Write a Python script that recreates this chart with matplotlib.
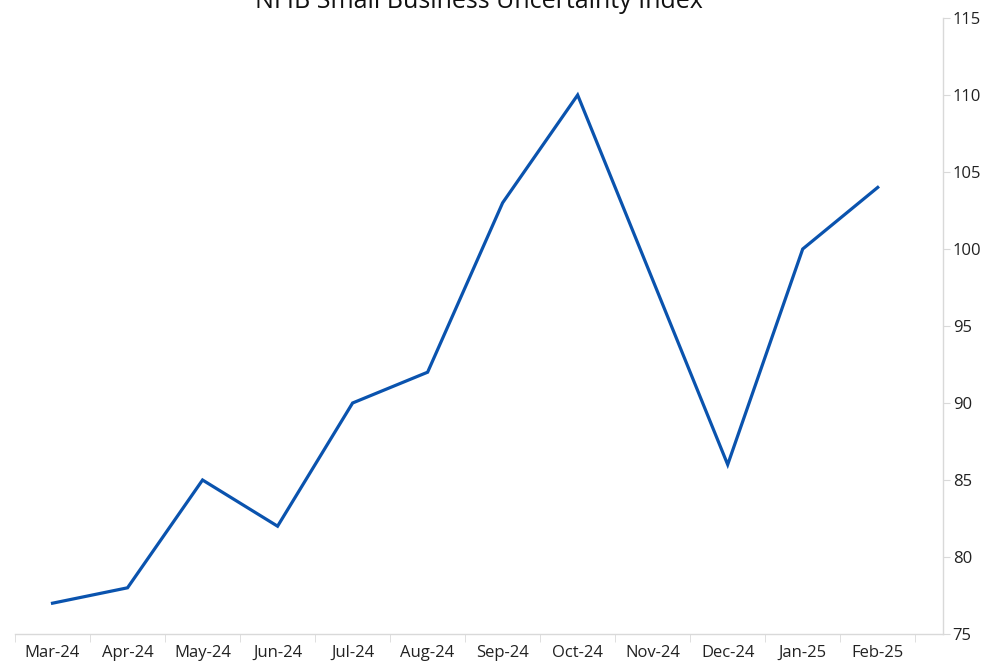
import numpy as np
import matplotlib.pyplot as plt
from matplotlib.ticker import FixedLocator

months = ["Mar-24", "Apr-24", "May-24", "Jun-24", "Jul-24", "Aug-24",
          "Sep-24", "Oct-24", "Nov-24", "Dec-24", "Jan-25", "Feb-25"]
uncertainty = [77, 78, 85, 82, 90, 92, 103, 110, 98, 86, 100, 104]

plt.rcParams['font.family'] = ['Open Sans', 'DejaVu Sans']

fig = plt.figure(figsize=(9.96, 6.65), dpi=100)
ax = fig.add_axes([15 / 996, 31 / 665, 928 / 996, 616 / 665])

x = np.arange(len(months))
ax.plot(x, uncertainty, color="#0A53AE", linewidth=2.3, solid_joinstyle="miter")

ax.set_xlim(-0.5, len(months) - 0.5 + 0.37)
ax.set_ylim(75, 115)
ax.set_yticks(np.arange(75, 116, 5))

ax.set_xticks(x)
ax.set_xticklabels(months)
ax.xaxis.set_minor_locator(FixedLocator(np.arange(-0.5, len(months) + 0.5, 1)))
ax.tick_params(axis="x", which="major", length=0, labelsize=12, pad=8, colors="#222222")
ax.tick_params(axis="x", which="minor", length=6, color="#d9d9d9")

ax.yaxis.tick_right()
ax.tick_params(axis="y", length=5, color="#d9d9d9", labelsize=12, labelcolor="#222222", pad=2)

for side in ["top", "left"]:
    ax.spines[side].set_visible(False)
for side in ["bottom", "right"]:
    ax.spines[side].set_color("#d9d9d9")
    ax.spines[side].set_linewidth(1)

ax.set_title("NFIB Small Business Uncertainty Index", fontsize=18, pad=7, color="#111111")

fig.savefig("out.png", dpi=100)
